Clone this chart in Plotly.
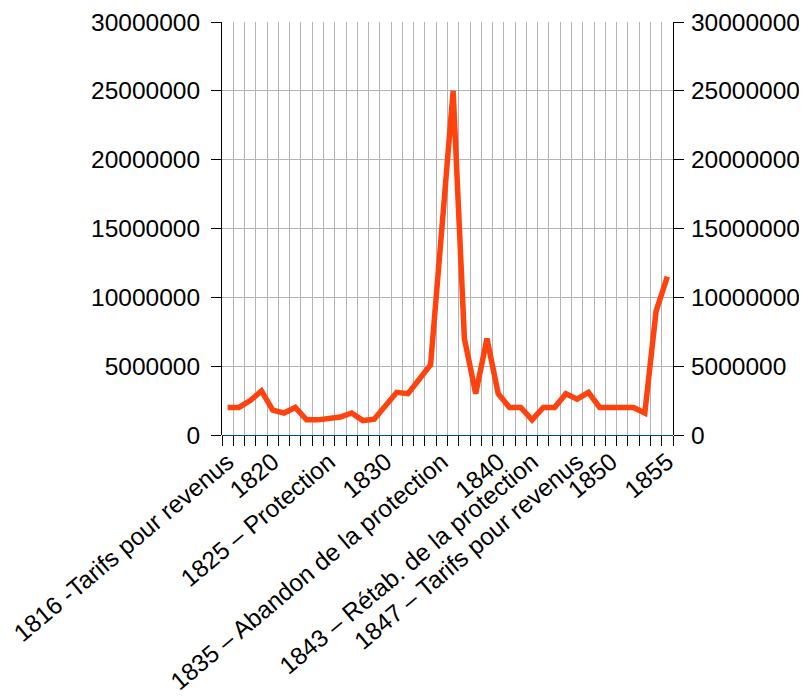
import plotly.graph_objects as go

years = list(range(1816, 1856))
values = [2000000, 2000000, 2500000, 3200000, 1800000, 1600000, 2000000, 1100000, 1100000, 1200000,
          1300000, 1600000, 1050000, 1150000, 2200000, 3100000, 3000000, 4100000, 5100000, 15000000,
          25000000, 7000000, 3000000, 7000000, 3000000, 2000000, 2000000, 1100000, 2000000, 2000000,
          3000000, 2600000, 3100000, 2000000, 2000000, 2000000, 2000000, 1600000, 9000000, 11500000]
label_years = [1816, 1820, 1825, 1830, 1835, 1840, 1843, 1847, 1850, 1855]
label_texts = ["1816 -Tarifs pour revenus", "1820", "1825 – Protection", "1830",
               "1835 – Abandon de la protection", "1840", "1843 – Rétab. de la protection",
               "1847 – Tarifs pour revenus", "1850", "1855"]
y_ticks = [0, 5000000, 10000000, 15000000, 20000000, 25000000, 30000000]

idx = list(range(len(years)))
label_idx = [years.index(y) for y in label_years]

font = dict(family="Liberation Sans, Arial, sans-serif", size=24.5, color="black")
grid = "#b3b3b3"

fig = go.Figure()
fig.add_trace(go.Scatter(x=idx, y=values, mode="lines",
                         line=dict(color="#ff420e", width=5.5, shape="linear"),
                         hoverinfo="skip", showlegend=False))
fig.add_trace(go.Scatter(x=idx, y=values, mode="lines", yaxis="y2",
                         line=dict(color="rgba(0,0,0,0)", width=0),
                         hoverinfo="skip", showlegend=False))

fig.update_layout(
    width=799, height=688,
    margin=dict(l=214, r=134, t=14, b=261, autoexpand=False),
    paper_bgcolor="white", plot_bgcolor="white",
    font=font,
    xaxis=dict(
        range=[-0.5, len(years) - 0.5], automargin=False,
        tickmode="array", tickvals=label_idx, ticktext=label_texts,
        tickangle=-40, ticks="outside", ticklen=2, tickcolor="rgba(0,0,0,0)",
        showgrid=False, zeroline=False, showline=False,
        tickfont=font,
        minor=dict(tick0=-0.5, dtick=1, ticks="outside", ticklen=10, tickcolor="black",
                   tickwidth=1, showgrid=True, gridcolor=grid, gridwidth=1),
    ),
    yaxis=dict(
        range=[0, 30000000], tickmode="array", tickvals=y_ticks, automargin=False,
        ticktext=[str(v) for v in y_ticks],
        ticks="outside", ticklen=10, tickcolor="black",
        showline=True, linecolor="black", linewidth=1,
        showgrid=True, gridcolor=grid, gridwidth=1,
        zeroline=True, zerolinecolor="#004586", zerolinewidth=1,
        ticklabelstandoff=6, tickfont=font,
    ),
    yaxis2=dict(
        range=[0, 30000000], overlaying="y", side="right", tickmode="array", automargin=False,
        tickvals=y_ticks, ticktext=[str(v) for v in y_ticks],
        ticks="outside", ticklen=10, tickcolor="black",
        showline=True, linecolor="black", linewidth=1,
        showgrid=False, zeroline=False, ticklabelstandoff=2, tickfont=font,
    ),
)

fig.write_html("out.html")
